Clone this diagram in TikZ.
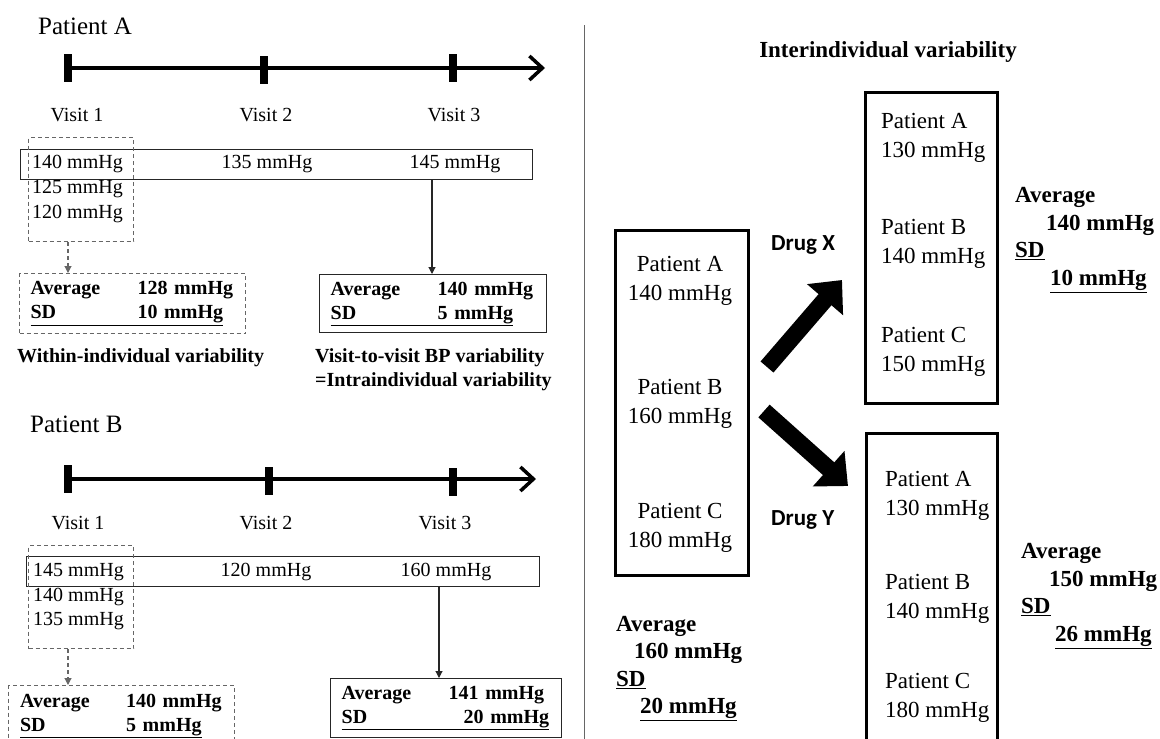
\documentclass[tikz,border=0pt]{standalone}
\usepackage{fontspec}
\setmainfont{Liberation Serif}
\newfontfamily\drugfont{Carlito}
\usetikzlibrary{arrows.meta}
\tikzset{
  tl/.style={line width=3.5pt, -{Straight Barb[length={13pt 0 0}, width={24pt 0 0}]}},
  tickmark/.style={fill=black, minimum width=8pt, minimum height=28pt, inner sep=0pt},
  rowbox/.style={draw=black!85, line width=1.3pt, inner sep=0pt},
  dbox/.style={draw=black!60, dash pattern=on 4pt off 3pt, line width=1.1pt},
  sbox/.style={draw=black!85, line width=1.3pt},
  bigbox/.style={draw=black, line width=3pt, inner sep=0pt},
  ftA/.style={font=\fontsize{20}{22}\selectfont, inner sep=0pt},
  fbA/.style={font=\fontsize{20}{24}\selectfont\bfseries, inner sep=0pt},
  ftB/.style={font=\fontsize{23}{29}\selectfont, inner sep=0pt},
  fbB/.style={font=\fontsize{23}{27.5}\selectfont\bfseries, inner sep=0pt},
  fttl/.style={font=\fontsize{25}{30}\selectfont, inner sep=0pt},
  drug/.style={font=\fontsize{23}{27}\selectfont\drugfont\bfseries, inner sep=0pt},
  darr/.style={draw=black!60, dash pattern=on 4pt off 3pt, line width=1.1pt, -{Triangle[length={7pt 0 0}, width={7pt 0 0}]}},
  sarr/.style={draw=black!85, line width=1.1pt, -{Triangle[length={7pt 0 0}, width={7pt 0 0}]}},
  blockarr/.style={line width=17pt, -{Triangle[length={26pt 0 0}, width={46pt 0 0}]}},
  divider/.style={draw=black!60, line width=1.2pt},
}
\begin{document}
\begin{tikzpicture}[x=1pt, y=-1pt]
\useasboundingbox (0,0) rectangle (1160,739);

% ================= Patient A =================
\node[fttl, anchor=west] (pa) at (38,26) {Patient A};
\coordinate (aend) at (545,68);
\node[tickmark] (a1) at (68,68) {};
\node[tickmark] (a2) at (264,70) {};
\node[tickmark] (a3) at (453,68) {};
\draw[tl] (a1.center) -- (aend);

\node[ftA] (va1) at (77,115) {Visit 1};
\node[ftA] (va2) at (266,115) {Visit 2};
\node[ftA] (va3) at (454,115) {Visit 3};

\node[rowbox, minimum width=512pt, minimum height=30pt, anchor=north west] (rowA) at (20,149) {};
\node[dbox, inner sep=0pt, minimum width=105pt, minimum height=104pt, anchor=north west] (dA) at (28,137) {};
\node[ftA, anchor=west] (a11) at (32,164) {140 mmHg};
\node[ftA, anchor=west] (a12) at (32,189) {125 mmHg};
\node[ftA, anchor=west] (a13) at (32,214) {120 mmHg};
\node[ftA] (a2v) at (267,164) {135 mmHg};
\node[ftA] (a3v) at (455,164) {145 mmHg};

\node[dbox, fbA, inner xsep=11pt, inner ysep=0pt, text width=204pt, align=left,
      minimum height=60pt, anchor=north west] (mA1) at (19,273)
  {\makebox[107pt][l]{Average}128 mmHg\\\underline{\makebox[107pt][l]{SD}10 mmHg}};
\node[sbox, fbA, inner xsep=11pt, inner ysep=0pt, text width=205pt, align=left,
      minimum height=58pt, anchor=north west] (mA2) at (319,274)
  {\makebox[107pt][l]{Average}140 mmHg\\\underline{\makebox[107pt][l]{SD}5 mmHg}};

\draw[darr] (dA.south -| a1.center) -- (mA1.north -| a1.center);
\coordinate (arA) at (432,0);
\draw[sarr] (rowA.south -| arA) -- (mA2.north -| arA);

\node[fbA, anchor=west] (wiv) at (17,358) {Within-individual variability};
\node[fbA, anchor=west, align=left] (vvv) at (315,370) {Visit-to-visit BP variability\\=Intraindividual variability};

% ================= Patient B =================
\node[fttl, anchor=west] (pb) at (30,424) {Patient B};
\coordinate (bend) at (536,479);
\node[tickmark] (b1) at (68,479) {};
\node[tickmark] (b2) at (269,481) {};
\node[tickmark] (b3) at (453,482) {};
\draw[tl] (b1.center) -- (bend);

\node[ftA] (vb1) at (78,523) {Visit 1};
\node[ftA] (vb2) at (266,523) {Visit 2};
\node[ftA] (vb3) at (445,523) {Visit 3};

\node[rowbox, minimum width=513pt, minimum height=30pt, anchor=north west] (rowB) at (26,556) {};
\node[dbox, inner sep=0pt, minimum width=105pt, minimum height=103pt, anchor=north west] (dB) at (28,545) {};
\node[ftA, anchor=west] (b11) at (33,572) {145 mmHg};
\node[ftA, anchor=west] (b12) at (33,597) {140 mmHg};
\node[ftA, anchor=west] (b13) at (33,621) {135 mmHg};
\node[ftA] (b2v) at (266,572) {120 mmHg};
\node[ftA] (b3v) at (446,572) {160 mmHg};

\node[dbox, fbA, inner xsep=11.5pt, inner ysep=0pt, text width=203pt, align=left,
      minimum height=60pt, anchor=north west] (mB1) at (8,685)
  {\makebox[106pt][l]{Average}140 mmHg\\\underline{\makebox[106pt][l]{SD}5 mmHg}};
\node[sbox, fbA, inner xsep=11pt, inner ysep=0pt, text width=209pt, align=left,
      minimum height=59pt, anchor=north west] (mB2) at (330,678)
  {\makebox[107pt][l]{Average}141 mmHg\\\underline{\makebox[122pt][l]{SD}20 mmHg}};

\draw[darr] (dB.south -| b1.center) -- (mB1.north -| b1.center);
\coordinate (arB) at (439,0);
\draw[sarr] (rowB.south -| arB) -- (mB2.north -| arB);

% ================= Right side =================
\coordinate (dtop) at (584.5,25);
\coordinate (dbot) at (584.5,739);
\draw[divider] (dtop) -- (dbot);

\node[fbB] (ih) at (888,52) {Interindividual variability};

\node[bigbox, minimum width=133pt, minimum height=345pt, anchor=north west] (lx) at (614,229) {};
\node[ftB, align=center] (lpa) at (680,281) {Patient A\\140 mmHg};
\node[ftB, align=center] (lpb) at (680,404) {Patient B\\160 mmHg};
\node[ftB, align=center] (lpc) at (680,527.5) {Patient C\\180 mmHg};

\node[bigbox, minimum width=132pt, minimum height=311pt, anchor=north west] (rx) at (864,91) {};
\node[ftB, anchor=west, align=left] (xpa) at (881,137.5) {Patient A\\130 mmHg};
\node[ftB, anchor=west, align=left] (xpb) at (881,244) {Patient B\\140 mmHg};
\node[ftB, anchor=west, align=left] (xpc) at (881,352) {Patient C\\150 mmHg};

\node[bigbox, minimum width=131pt, minimum height=330pt, anchor=north west] (ry) at (865,432) {};
\node[ftB, anchor=west, align=left] (ypa) at (885,495.5) {Patient A\\130 mmHg};
\node[ftB, anchor=west, align=left] (ypb) at (885,599) {Patient B\\140 mmHg};
\node[ftB, anchor=west, align=left] (ypc) at (885,698) {Patient C\\180 mmHg};

\node[drug, anchor=west] (dx) at (771,245) {Drug X};
\node[drug, anchor=west] (dy) at (771,520) {Drug Y};

\coordinate (xs) at (767,367);
\coordinate (xt) at (842,280);
\draw[blockarr] (xs) -- (xt);
\coordinate (ys) at (764,411);
\coordinate (yt) at (848,486);
\draw[blockarr] (ys) -- (yt);

\node[fbB, anchor=west, align=left] (sx) at (1015,240)
  {Average\\\hspace*{31pt}140 mmHg\\\underline{SD}\\\hspace*{35pt}\underline{10 mmHg}};
\node[fbB, anchor=west, align=left] (sy) at (1021,596)
  {Average\\\hspace*{28pt}150 mmHg\\\underline{SD}\\\hspace*{34pt}\underline{26 mmHg}};
\node[fbB, anchor=west, align=left] (s0) at (616,668.5)
  {Average\\\hspace*{18pt}160 mmHg\\\underline{SD}\\\hspace*{24pt}\underline{20 mmHg}};
\end{tikzpicture}
\end{document}
